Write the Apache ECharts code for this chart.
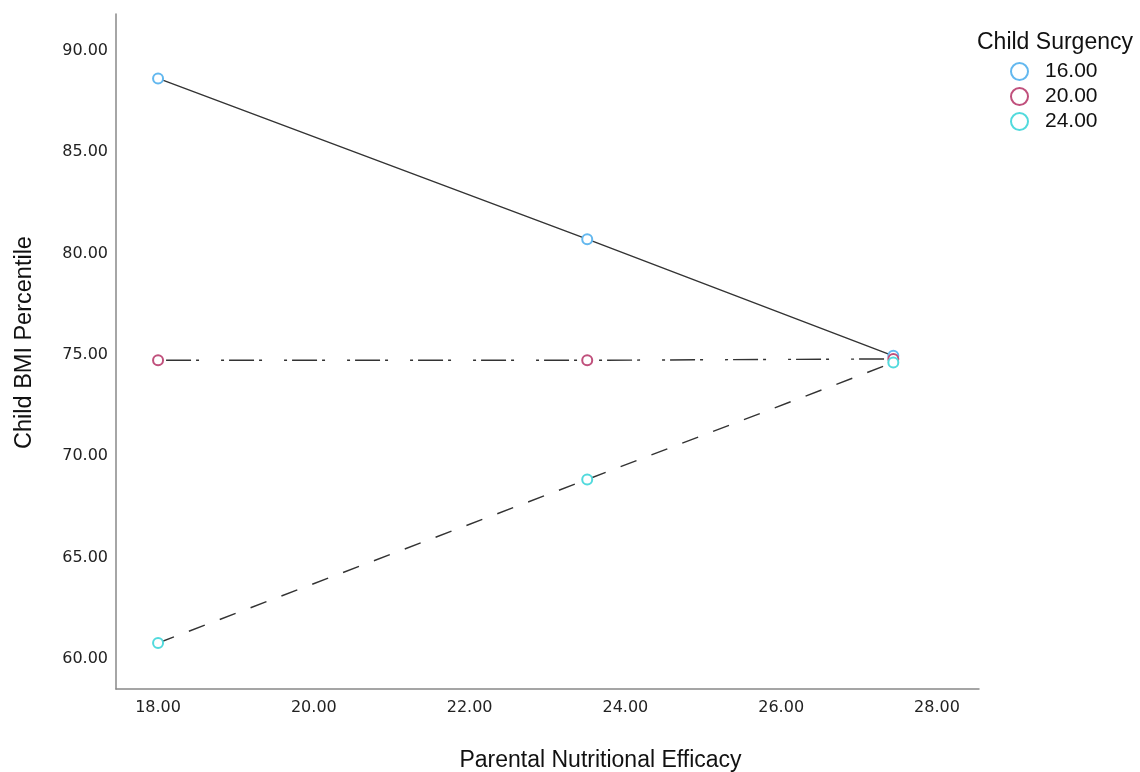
<!DOCTYPE html>
<html>
<head>
<meta charset="utf-8">
<title>Child BMI Percentile</title>
<script src="https://cdn.jsdelivr.net/npm/echarts@6/dist/echarts.min.js"></script>
<style>
  html, body { margin: 0; padding: 0; background: #fff; }
  #chart { width: 1140px; height: 772px; }
</style>
</head>
<body>
<div id="chart"></div>
<script>
// values
const efficacy = [18.0, 23.51, 27.44]
const seriesNames = ['16.00', '20.00', '24.00']
const bmi16 = [88.64, 80.71, 74.95]
const bmi20 = [74.73, 74.73, 74.80]
const bmi24 = [60.78, 68.85, 74.62]
const xTicks = [18, 20, 22, 24, 26, 28]
const yTicks = [60, 65, 70, 75, 80, 85, 90]

const colors = ['#63b8ef', '#c0507c', '#52dadd']
const dashes = ['solid', [3, 5, 25, 5, 3, 22], [17, 16]]
const values = [bmi16, bmi20, bmi24]

const sansFont = '"Liberation Sans", Arial, Helvetica, sans-serif'
const tickFont = '"DejaVu Sans", sans-serif'

let series = []
for (let i = 0; i < seriesNames.length; i++) {
  series.push({
    name: seriesNames[i],
    type: 'line',
    data: efficacy.map((x, j) => [x, values[i][j]]),
    symbol: 'emptyCircle',
    symbolSize: 10,
    showAllSymbol: true,
    itemStyle: {
      color: colors[i],
      borderWidth: 1.6
    },
    lineStyle: {
      color: '#333',
      width: 1.4,
      type: dashes[i]
    },
    emphasis: { disabled: true },
    animation: false
  })
}

const chart = echarts.init(document.getElementById('chart'))
chart.setOption({
  backgroundColor: '#fff',
  animation: false,
  title: {
    text: 'Child Surgency',
    left: 972,
    top: 26,
    textStyle: {
      fontFamily: sansFont,
      fontSize: 23,
      fontWeight: 'normal',
      color: '#111'
    }
  },
  legend: {
    data: seriesNames,
    orient: 'vertical',
    left: 1005,
    top: 56,
    icon: 'emptyCircle',
    itemWidth: 17,
    itemHeight: 17,
    itemGap: 4,
    selectedMode: false,
    itemStyle: { borderWidth: 1.6 },
    textStyle: {
      fontFamily: sansFont,
      fontSize: 21,
      lineHeight: 17,
      color: '#111',
      padding: [0, 0, 0, 12]
    }
  },
  grid: {
    left: 116,
    right: 161,
    top: 14,
    bottom: 83,
    containLabel: false,
    outerBoundsMode: 'none'
  },
  xAxis: {
    type: 'value',
    min: 17.46,
    max: 28.54,
    name: 'Parental Nutritional Efficacy',
    nameLocation: 'middle',
    nameGap: 60,
    nameTextStyle: {
      fontFamily: sansFont,
      fontSize: 23,
      color: '#111',
      padding: [0, 0, 0, 106]
    },
    splitLine: { show: false },
    axisTick: { show: false },
    axisLine: { lineStyle: { color: '#888', width: 1.5 } },
    axisLabel: {
      customValues: xTicks,
      formatter: v => v.toFixed(2),
      margin: 11,
      fontFamily: tickFont,
      fontSize: 16,
      color: '#222'
    }
  },
  yAxis: {
    type: 'value',
    min: 58.51,
    max: 91.82,
    name: 'Child BMI Percentile',
    nameLocation: 'middle',
    nameGap: 79,
    nameTextStyle: {
      fontFamily: sansFont,
      fontSize: 23.5,
      color: '#111',
      padding: [0, 0, 0, 18]
    },
    splitLine: { show: false },
    axisTick: { show: false },
    axisLine: { show: true, lineStyle: { color: '#888', width: 1.5 } },
    axisLabel: {
      customValues: yTicks,
      formatter: v => v.toFixed(2),
      margin: 8,
      fontFamily: tickFont,
      fontSize: 16,
      color: '#222'
    }
  },
  series: series
})
</script>
</body>
</html>
